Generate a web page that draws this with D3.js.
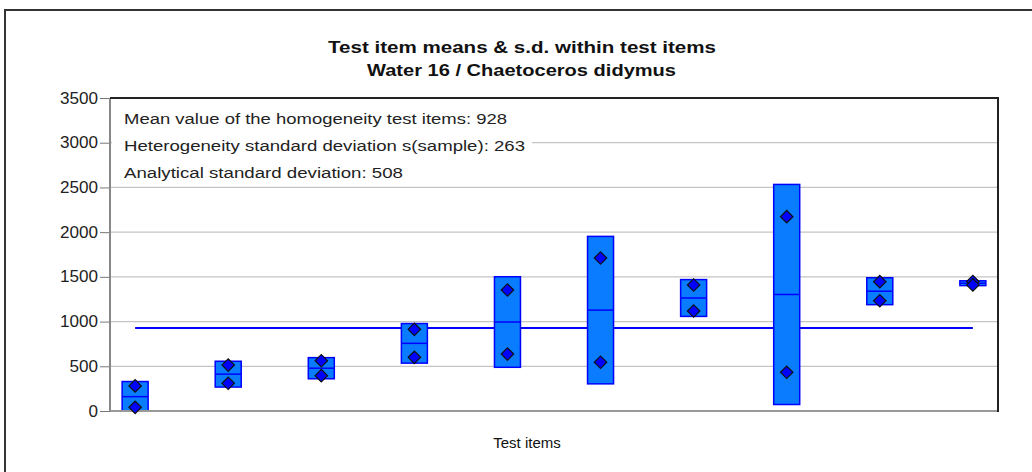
<!DOCTYPE html>
<html>
<head>
<meta charset="utf-8">
<script src="https://cdn.jsdelivr.net/npm/d3@7"></script>
<style>
  html, body { margin: 0; padding: 0; background: #fff; }
  svg { display: block; font-family: "Liberation Sans", Arial, sans-serif; }
</style>
</head>
<body>
<svg id="chart" width="1032" height="472"></svg>
<script>
// ---- data ----
const titleLines = ["Test item means & s.d. within test items", "Water 16 / Chaetoceros didymus"];
const items = [1, 2, 3, 4, 5, 6, 7, 8, 9, 10];
const replicateA = [280, 514, 562, 913, 1353, 1711, 1409, 2173, 1446, 1448];
const replicateB = [41, 310, 395, 600, 637, 545, 1118, 433, 1233, 1410];
const overallMean = 928;
const annotations = [
  "Mean value of the homogeneity test items: 928",
  "Heterogeneity standard deviation s(sample): 263",
  "Analytical standard deviation: 508"
];
const yTicks = [0, 500, 1000, 1500, 2000, 2500, 3000, 3500];
const xAxisLabel = "Test items";

// ---- layout ----
const svg = d3.select("#chart");
const plot = { left: 110, right: 998, top: 98, bottom: 411 };

const x = d3.scalePoint().domain(items).range([plot.left, plot.right]).padding(0.27);
const y = d3.scaleLinear().domain([0, 3500]).range([plot.bottom, plot.top]);

const stats = items.map((it, i) => {
  const a = replicateA[i], b = replicateB[i];
  const mean = (a + b) / 2;
  const sd = Math.sqrt(((a - mean) ** 2 + (b - mean) ** 2) / 1);
  return { item: it, a, b, mean, sd };
});

// stretch a text horizontally to a target width
function fitWidth(sel, w) {
  sel.attr("textLength", w).attr("lengthAdjust", "spacingAndGlyphs");
}

// outer frame
svg.append("rect").attr("x", 5).attr("y", 10).attr("width", 1040).attr("height", 470)
  .attr("fill", "none").attr("stroke", "#333").attr("stroke-width", 2);

// titles
svg.append("text").attr("x", 328).attr("y", 53)
  .attr("font-size", 16).attr("font-weight", "bold").attr("fill", "#111").text(titleLines[0])
  .call(fitWidth, 388);
svg.append("text").attr("x", 367).attr("y", 76)
  .attr("font-size", 16).attr("font-weight", "bold").attr("fill", "#111").text(titleLines[1])
  .call(fitWidth, 309);

// gridlines
svg.append("g").selectAll("line").data(yTicks.filter(t => t > 0 && t < 3500)).join("line")
  .attr("x1", plot.left).attr("x2", plot.right)
  .attr("y1", d => y(d)).attr("y2", d => y(d))
  .attr("stroke", "#c4c4c4").attr("stroke-width", 1.2);

// y axis
const yAxis = d3.axisLeft(y).tickValues(yTicks).tickSize(10).tickPadding(2).tickFormat(d3.format("d"));
const gy = svg.append("g").attr("transform", `translate(${plot.left},0)`).call(yAxis);
gy.select(".domain").remove();
gy.selectAll(".tick line").attr("stroke", "#777");
gy.selectAll(".tick text").attr("font-size", 16).attr("fill", "#222")
  .attr("font-family", "'Liberation Sans', Arial, sans-serif")
  .each(function () { const n = this.textContent.length; d3.select(this).call(fitWidth, n * 9.5); });

// plot frame
svg.append("line").attr("x1", plot.left).attr("x2", plot.left).attr("y1", plot.top).attr("y2", plot.bottom)
  .attr("stroke", "#888").attr("stroke-width", 2);
svg.append("line").attr("x1", plot.left).attr("x2", plot.right).attr("y1", plot.bottom).attr("y2", plot.bottom)
  .attr("stroke", "#999").attr("stroke-width", 2);
svg.append("line").attr("x1", plot.left).attr("x2", plot.right + 1).attr("y1", plot.top).attr("y2", plot.top)
  .attr("stroke", "#222").attr("stroke-width", 2);
svg.append("line").attr("x1", plot.right).attr("x2", plot.right).attr("y1", plot.top).attr("y2", plot.bottom + 1)
  .attr("stroke", "#222").attr("stroke-width", 2);

// annotation texts with white backgrounds
const annWidths = [383, 401, 279];
const ann = svg.append("g");
annotations.forEach((t, i) => {
  const g = ann.append("g");
  const bg = g.append("rect").attr("fill", "#fff");
  const tx = g.append("text").attr("x", 124).attr("y", 124 + i * 27)
    .attr("font-size", 15.5).attr("fill", "#222").text(t).call(fitWidth, annWidths[i]);
  const bb = tx.node().getBBox();
  bg.attr("x", plot.left + 2).attr("y", bb.y - 3).attr("width", 124 + annWidths[i] + 7 - plot.left - 2).attr("height", bb.height + 6);
});

// clip
svg.append("clipPath").attr("id", "clip").append("rect")
  .attr("x", plot.left + 1).attr("y", plot.top).attr("width", plot.right - plot.left - 2).attr("height", plot.bottom - plot.top - 1);

const marks = svg.append("g").attr("clip-path", "url(#clip)");
const boxW = 26;

// grand mean line
marks.append("line")
  .attr("x1", x(items[0])).attr("x2", x(items[items.length - 1]))
  .attr("y1", y(overallMean)).attr("y2", y(overallMean))
  .attr("stroke", "#0000ff").attr("stroke-width", 2);

// boxes (mean ± sd)
marks.selectAll("rect.box").data(stats).join("rect").attr("class", "box")
  .attr("x", d => x(d.item) - boxW / 2).attr("width", boxW)
  .attr("y", d => y(d.mean + d.sd))
  .attr("height", d => Math.max(3, y(d.mean - d.sd) - y(d.mean + d.sd)))
  .attr("fill", "#0a7cff").attr("stroke", "#0000ff").attr("stroke-width", 1.5);

// mean lines in boxes
marks.selectAll("line.mean").data(stats).join("line").attr("class", "mean")
  .attr("x1", d => x(d.item) - boxW / 2).attr("x2", d => x(d.item) + boxW / 2)
  .attr("y1", d => y(d.mean)).attr("y2", d => y(d.mean))
  .attr("stroke", "#0000ff").attr("stroke-width", 1.5);

// replicate diamonds
const pts = stats.flatMap(d => [{ item: d.item, v: d.a }, { item: d.item, v: d.b }]);
const diamond = d3.symbol().type(d3.symbolSquare).size(78);
svg.append("g").selectAll("path").data(pts).join("path")
  .attr("d", diamond)
  .attr("transform", d => `translate(${x(d.item)},${y(d.v)}) rotate(45)`)
  .attr("fill", "#0000ff").attr("stroke", "#111").attr("stroke-width", 1.2);

// x axis label
svg.append("text").attr("x", 527).attr("y", 448).attr("text-anchor", "middle")
  .attr("font-size", 15).attr("fill", "#111").text(xAxisLabel);
</script>
</body>
</html>
